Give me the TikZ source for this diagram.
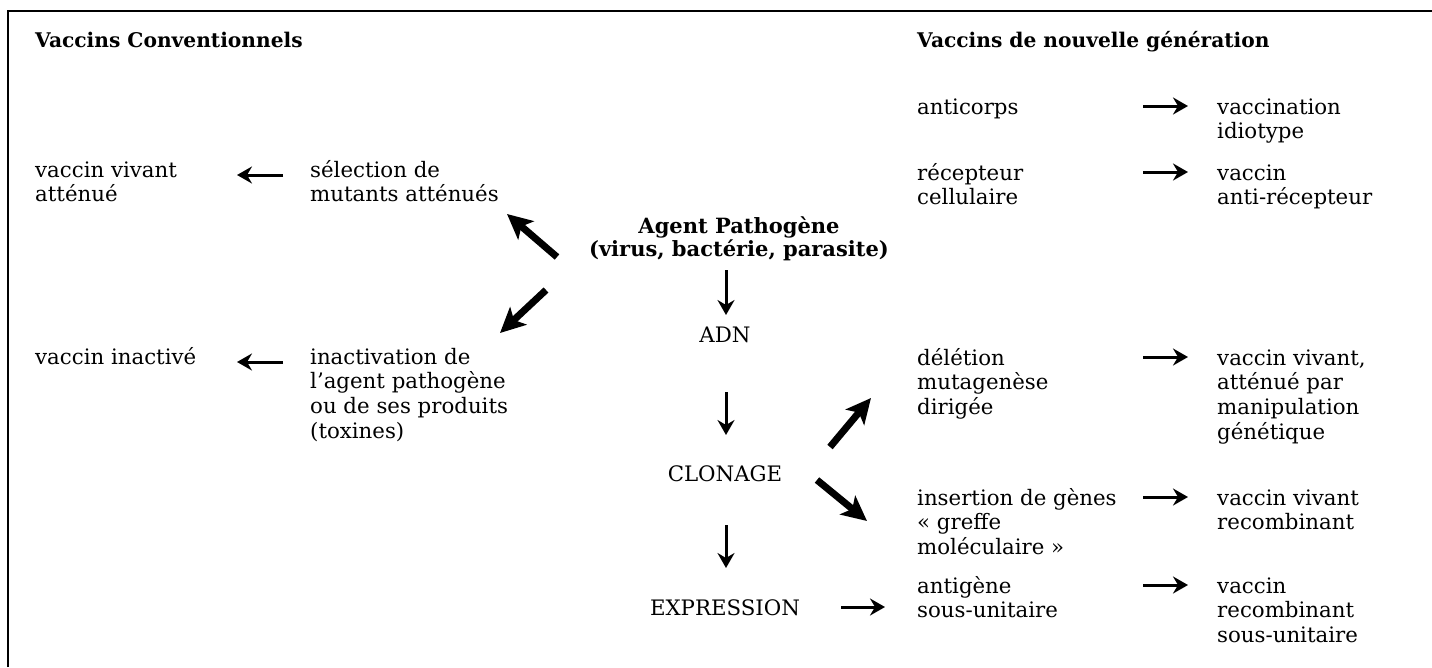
\documentclass[tikz,border=0pt]{standalone}
\usepackage{fontspec}
\setmainfont{DejaVu Serif}
\usetikzlibrary{arrows.meta}
\newcommand{\Lines}[2][l]{\begin{tabular}[t]{@{}#1@{}}#2\end{tabular}}
\tikzset{
  txt/.style={anchor=base west, inner sep=0pt, font=\fontsize{21.3}{24.7}\selectfont},
  ctxt/.style={anchor=base, inner sep=0pt, font=\fontsize{21.3}{24.7}\selectfont},
  headtxt/.style={anchor=base west, inner sep=0pt, font=\fontsize{20.2}{24.7}\selectfont\bfseries},
  agenttxt/.style={anchor=base, inner sep=0pt, font=\fontsize{21}{23.5}\selectfont\bfseries},
  tarr/.style={line width=3pt, -{Stealth[length=15pt,width=17pt,inset=5pt]}},
  barr/.style={line width=7pt, -{Stealth[length=25pt,width=24pt,inset=6pt]}},
  framestyle/.style={line width=2pt}
}
\begin{document}
\begin{tikzpicture}[x=1pt,y=-1pt]
\useasboundingbox (0,0) rectangle (1432,667);
\draw[framestyle] (8,667) -- (8,11) -- (1432,11);

% headings
\node[headtxt] (h1) at (35,47) {Vaccins Conventionnels};
\node[headtxt] (h2) at (917,47) {Vaccins de nouvelle génération};

% left column
\node[txt] (vva) at (35,177) {\Lines{vaccin vivant\\atténué}};
\node[txt] (sel) at (310,177) {\Lines{sélection de\\mutants atténués}};
\node[txt] (vin) at (35,364) {vaccin inactivé};
\node[txt] (inact) at (310,364) {\Lines{inactivation de\\l’agent pathogène\\ou de ses produits\\(toxines)}};

% centre
\node[agenttxt] (agent) at (739,233) {\Lines[c]{Agent Pathogène\\(virus, bactérie, parasite)}};
\node[ctxt] (adn) at (725,342) {ADN};
\node[ctxt] (clon) at (725,481) {CLONAGE};
\node[ctxt] (expr) at (725,615) {EXPRESSION};

% right columns
\node[txt] (anti) at (917,114) {anticorps};
\node[txt] (vidio) at (1217,114) {\Lines{vaccination\\idiotype}};
\node[txt] (rec) at (917,180) {\Lines{récepteur\\cellulaire}};
\node[txt] (vrec) at (1217,180) {\Lines{vaccin\\anti-récepteur}};
\node[txt] (del) at (917,365) {\Lines{délétion\\mutagenèse\\dirigée}};
\node[txt] (vvm) at (1217,365) {\Lines{vaccin vivant,\\atténué par\\manipulation\\génétique}};
\node[txt] (ins) at (917,505) {\Lines{insertion de gènes\\« greffe\\moléculaire »}};
\node[txt] (vvr) at (1217,505) {\Lines{vaccin vivant\\recombinant}};
\node[txt] (ag) at (917,593) {\Lines{antigène\\sous-unitaire}};
\node[txt] (vrs) at (1217,593) {\Lines{vaccin\\recombinant\\sous-unitaire}};

% thin arrows
\draw[tarr] ([shift={(226,-8)}]anti.base west) -- ([shift={(-29,-8)}]vidio.base west);
\draw[tarr] ([shift={(226,-8)}]rec.base west) -- ([shift={(-29,-8)}]vrec.base west);
\draw[tarr] ([shift={(-27,-2)}]sel.base west) -- ([shift={(202,-2)}]vva.base west);
\draw[tarr] ([shift={(-27,-2)}]inact.base west) -- ([shift={(202,-2)}]vin.base west);
\draw[tarr] ([shift={(-13,37)}]agent.base) -- ([shift={(1,-27)}]adn.base);
\draw[tarr] ([shift={(1,50)}]adn.base) -- ([shift={(1,-46)}]clon.base);
\draw[tarr] ([shift={(1,44)}]clon.base) -- ([shift={(1,-47)}]expr.base);
\draw[tarr] ([shift={(116,-8)}]expr.base) -- ([shift={(-32,14)}]ag.base west);
\draw[tarr] ([shift={(226,-8)}]del.base west) -- ([shift={(-29,-8)}]vvm.base west);
\draw[tarr] ([shift={(226,-8)}]ins.base west) -- ([shift={(-29,-8)}]vvr.base west);
\draw[tarr] ([shift={(226,-8)}]ag.base west) -- ([shift={(-29,-8)}]vrs.base west);

% bold arrows
\draw[barr] ([shift={(-182,24)}]agent.base) -- ([shift={(197,37)}]sel.base west);
\draw[barr] ([shift={(-193,57)}]agent.base) -- ([shift={(190,-31)}]inact.base west);
\draw[barr] ([shift={(105,-34)}]clon.base) -- ([shift={(-46,33)}]del.base west);
\draw[barr] ([shift={(92,-1)}]clon.base) -- ([shift={(-50,16)}]ins.base west);
\end{tikzpicture}
\end{document}
